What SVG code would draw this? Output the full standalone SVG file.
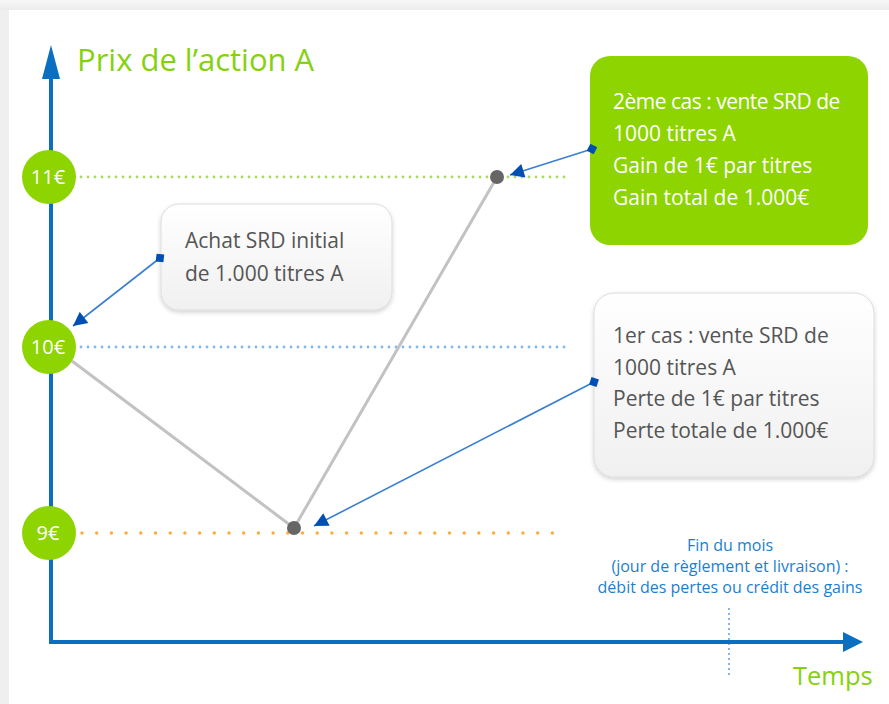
<svg xmlns="http://www.w3.org/2000/svg" width="889" height="704" viewBox="0 0 889 704">
<defs>
<linearGradient id="boxg" x1="0" y1="0" x2="0" y2="1"><stop offset="0" stop-color="#ffffff"/><stop offset="1" stop-color="#f0f0f0"/></linearGradient>
<linearGradient id="topg" x1="0" y1="0" x2="0" y2="1"><stop offset="0" stop-color="#f7f7f7"/><stop offset="1" stop-color="#ececec"/></linearGradient>
<filter id="sh" x="-10%" y="-10%" width="120%" height="130%"><feDropShadow dx="0" dy="2" stdDeviation="2" flood-color="#000" flood-opacity="0.18"/></filter>
<marker id="tri" viewBox="0 0 10 10" refX="10" refY="5" markerWidth="15" markerHeight="14" markerUnits="userSpaceOnUse" orient="auto"><path d="M0,0 L10,5 L0,10 z" fill="#0050b4"/></marker>
<marker id="dia" viewBox="0 0 10 10" refX="5" refY="5" markerWidth="11" markerHeight="11" markerUnits="userSpaceOnUse" orient="auto"><path d="M5,0 L10,5 L5,10 L0,5 z" fill="#0050b4"/></marker>
</defs>
<style>
.t{font-family:"Open Sans","Noto Sans","Liberation Sans",sans-serif}
.lbl{font-size:21px;fill:#555}
.wl{font-size:21px;fill:#fff}
.big{fill:#86d10d}
.circ{fill:#8dd400}
.ct{font-size:20px;fill:#fff;text-anchor:middle}
.con{stroke:#3a7fd0;stroke-width:1.6;fill:none;marker-start:url(#dia);marker-end:url(#tri)}
.axis{stroke:#0a6fc0;stroke-width:4;fill:none}
</style>
<rect x="0" y="0" width="889" height="704" fill="#efefef"/>
<rect x="0" y="0" width="889" height="10" fill="url(#topg)"/>
<rect x="9" y="10" width="880" height="694" fill="#ffffff"/>

<g id="guides">
<line x1="81" y1="177" x2="565" y2="177" stroke="#a8da62" stroke-width="2.8" stroke-dasharray="0 7" stroke-linecap="round"/>
<line x1="81" y1="347" x2="565" y2="347" stroke="#7fb8ec" stroke-width="2.8" stroke-dasharray="0 7" stroke-linecap="round"/>
<line x1="82" y1="533" x2="560" y2="533" stroke="#ffab3a" stroke-width="3.4" stroke-dasharray="0 14.7" stroke-linecap="round"/>
<line x1="729" y1="609" x2="729" y2="677" stroke="#6aa6e0" stroke-width="2.2" stroke-dasharray="0 5" stroke-linecap="round"/>
</g>

<g id="axes">
<path class="axis" d="M51,78 L51,642 L845,642"/>
<path d="M42,79 L51,45 L60,79 z" fill="#0a6fc0"/>
<path d="M843,632 L863,642 L843,652 z" fill="#0a6fc0"/>
<text class="t big" font-size="31" x="77" y="71">Prix de l’action A</text>
<text class="t big" font-size="25.5" x="793" y="685">Temps</text>
</g>

<g id="price-line">
<polyline points="72,361 294,528 497,177" fill="none" stroke="#c2c2c2" stroke-width="3"/>
<circle cx="294" cy="528" r="7" fill="#666"/>
<circle cx="497" cy="177" r="7" fill="#666"/>
</g>

<g id="p11"><circle class="circ" cx="49" cy="177" r="27"/><text class="t ct" x="48" y="184">11€</text></g>
<g id="p10"><circle class="circ" cx="49" cy="347" r="27"/><text class="t ct" x="48" y="354">10€</text></g>
<g id="p9"><circle class="circ" cx="49" cy="533" r="27"/><text class="t ct" x="48" y="540">9€</text></g>

<g id="achat">
<rect x="161" y="204" width="231" height="106" rx="18" fill="url(#boxg)" stroke="#dcdcdc" filter="url(#sh)"/>
<text class="t lbl" font-size="22.5" x="185" y="248">Achat SRD initial</text>
<text class="t lbl" font-size="22.5" x="185" y="281">de 1.000 titres A</text>
</g>

<g id="cas2">
<rect x="590" y="56" width="278" height="189" rx="20" fill="#8dd400"/>
<text class="t wl" x="613" y="109" letter-spacing="-0.5">2ème cas : vente SRD de</text>
<text class="t wl" x="613" y="141">1000 titres A</text>
<text class="t wl" x="613" y="173">Gain de 1€ par titres</text>
<text class="t wl" x="613" y="205">Gain total de 1.000€</text>
</g>

<g id="cas1">
<rect x="594" y="293" width="280" height="184" rx="20" fill="url(#boxg)" stroke="#dcdcdc" filter="url(#sh)"/>
<text class="t lbl" x="613" y="343">1er cas : vente SRD de</text>
<text class="t lbl" x="613" y="375">1000 titres A</text>
<text class="t lbl" x="613" y="406">Perte de 1€ par titres</text>
<text class="t lbl" x="613" y="438">Perte totale de 1.000€</text>
</g>

<g id="fin">
<text class="t" font-size="16" fill="#1a7fd0" text-anchor="middle"><tspan x="730" y="551">Fin du mois</tspan><tspan x="730" y="572">(jour de règlement et livraison) :</tspan><tspan x="730" y="593">débit des pertes ou crédit des gains</tspan></text>
</g>

<g id="connectors">
<line class="con" x1="160" y1="258" x2="73" y2="326"/>
<line class="con" x1="592" y1="149" x2="510" y2="175"/>
<line class="con" x1="594" y1="382" x2="314" y2="526"/>
</g>
</svg>
